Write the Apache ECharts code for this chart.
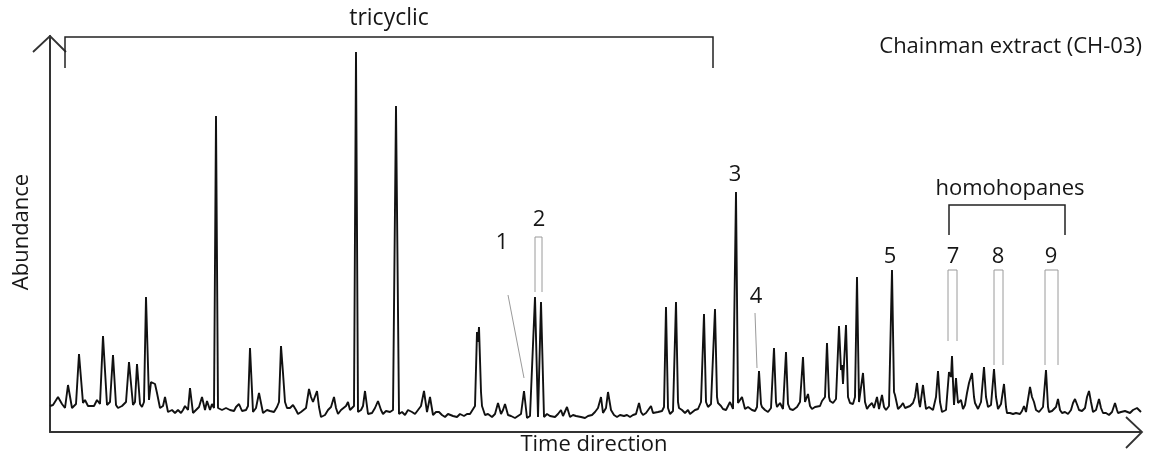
<!DOCTYPE html>
<html><head><meta charset="utf-8">
<script src="https://cdn.jsdelivr.net/npm/echarts@6/dist/echarts.min.js"></script>
<style>html,body{margin:0;padding:0;background:#fff}#c{width:1150px;height:461px}</style>
</head><body><div id="c"></div>
<script>
// Retention position (time direction, arbitrary units) and abundance (arbitrary units)
const tracePoints = [[50,26],[53,27],[58,35],[62,28],[65,24],[68,47],[72,24],[76,28],[79,78],[83,29],[85,32],[88,26],[90,24],[94,26],[97,32],[100,28],[103,96],[107,27],[110,30],[113,77],[116,27],[118,24],[122,26],[126,30],[129,70],[133,27],[135,30],[137,68],[140,28],[142,25],[144,30],[146,135],[149,32],[151,50],[153,52],[155,48],[157,39],[160,24],[163,26],[165,35],[168,20],[172,22],[175,19],[178,22],[181,19],[183,22],[185,26],[188,22],[190,44],[193,19],[196,22],[199,25],[202,35],[205,22],[207,31],[210,22],[212,28],[214,24],[216,316],[218,24],[222,22],[226,24],[230,22],[234,21],[236,25],[239,28],[242,21],[246,22],[248,26],[250,84],[253,20],[256,24],[259,39],[263,19],[267,22],[270,21],[274,20],[277,25],[279,30],[281,86],[283,59],[285,30],[287,24],[290,24],[293,27],[296,22],[298,18],[301,20],[303,20],[306,24],[309,43],[311,35],[313,30],[315,28],[317,41],[319,25],[321,15],[325,17],[328,22],[331,25],[334,35],[336,24],[338,18],[341,22],[343,23],[346,26],[348,30],[350,22],[352,20],[354,26],[356,380],[358,20],[361,22],[363,26],[365,41],[368,18],[372,19],[375,24],[378,31],[381,22],[383,18],[386,21],[390,20],[393,22],[396,326],[399,18],[402,20],[405,17],[408,22],[412,20],[415,18],[418,22],[421,26],[424,41],[427,20],[430,35],[433,17],[436,20],[439,20],[442,17],[445,15],[448,18],[450,18],[453,16],[457,15],[460,18],[464,16],[467,18],[470,18],[472,20],[475,26],[477,100],[478,90],[479,105],[481,40],[482,26],[485,17],[488,18],[492,15],[495,18],[498,29],[501,18],[503,22],[505,28],[508,17],[511,16],[515,14],[518,16],[521,18],[524,41],[527,14],[530,16],[532,15],[535,135],[538,15],[541,130],[544,15],[547,18],[550,16],[552,17],[555,15],[558,18],[561,22],[563,16],[565,18],[567,25],[570,15],[573,17],[576,16],[578,18],[581,15],[585,14],[588,16],[592,17],[595,20],[598,24],[601,35],[603,19],[606,24],[608,40],[611,22],[614,17],[617,15],[620,17],[624,16],[627,17],[630,15],[633,17],[636,18],[639,29],[641,20],[643,17],[646,19],[648,18],[651,26],[653,19],[655,17],[658,20],[660,18],[662,21],[664,25],[666,125],[668,24],[670,18],[673,21],[676,130],[678,30],[679,24],[682,22],[685,19],[688,22],[690,18],[692,18],[695,22],[698,23],[701,30],[704,118],[706,30],[708,25],[711,28],[713,30],[715,123],[717,35],[718,29],[721,26],[723,23],[726,22],[728,24],[730,30],[733,23],[736,240],[738,29],[740,30],[742,35],[745,23],[748,25],[750,23],[752,22],[755,21],[757,25],[759,61],[761,28],[762,25],[765,22],[768,20],[771,24],[774,84],[776,30],[777,25],[780,29],[783,23],[786,80],[788,28],[790,23],[793,22],[795,24],[797,25],[800,30],[803,75],[805,30],[806,28],[808,38],[810,26],[812,23],[815,25],[817,23],[820,26],[822,31],[825,35],[827,89],[829,35],[830,31],[833,29],[836,33],[839,106],[841,62],[842,67],[843,48],[846,107],[848,35],[850,29],[853,28],[855,35],[857,155],[859,30],[860,29],[863,59],[865,30],[867,23],[869,26],[872,29],[874,24],[877,35],[879,23],[882,37],[884,25],[886,22],[889,26],[892,162],[894,40],[895,37],[898,23],[901,26],[903,29],[905,24],[907,22],[910,26],[912,25],[913,29],[915,35],[917,49],[919,30],[920,25],[923,47],[925,30],[926,23],[929,25],[931,24],[933,22],[936,35],[938,61],[940,30],[942,20],[946,22],[949,60],[951,55],[952,76],[953,50],[954,27],[956,54],[957,40],[958,29],[961,32],[963,23],[965,27],[967,39],[969,49],[970,50],[972,59],[974,35],[975,29],[978,23],[981,30],[984,65],[986,35],[988,25],[991,27],[994,63],[996,35],[998,23],[1001,28],[1004,48],[1006,25],[1007,19],[1010,19],[1013,18],[1016,19],[1020,18],[1022,21],[1024,26],[1026,20],[1027,19],[1030,45],[1032,35],[1034,30],[1036,22],[1039,20],[1040,20],[1043,25],[1046,62],[1048,25],[1049,20],[1052,21],[1054,20],[1056,25],[1058,33],[1060,22],[1062,19],[1065,20],[1068,18],[1071,22],[1073,29],[1075,33],[1076,35],[1078,25],[1079,22],[1082,21],[1085,24],[1087,35],[1089,41],[1091,30],[1093,20],[1096,22],[1099,33],[1101,24],[1103,19],[1106,19],[1109,17],[1112,20],[1115,29],[1117,22],[1118,19],[1121,20],[1125,21],[1127,20],[1130,19],[1133,22],[1137,24],[1141,20]];

const chartTitle = 'Chainman extract (CH-03)';
const xAxisName = 'Time direction';
const yAxisName = 'Abundance';
const groupLabels = ['tricyclic', 'homohopanes'];
const peakLabels = ['1', '2', '3', '4', '5', '7', '8', '9'];

const FONT = '"Open Sans", "Noto Sans", sans-serif';
const TXT = '#161616';
const AX = '#333333';
const GRAY = '#9a9a9a';

function text(x, y, s, size, rot) {
  return { type: 'text', x: x, y: y, rotation: rot || 0,
    style: { text: s, font: size + 'px ' + FONT, fill: TXT, textAlign: 'center', textVerticalAlign: 'middle' } };
}
function poly(pts, color, w) {
  return { type: 'polyline', shape: { points: pts }, style: { stroke: color, lineWidth: w, fill: null } };
}

const chart = echarts.init(document.getElementById('c'), null, { renderer: 'canvas' });
chart.setOption({
  animation: false,
  backgroundColor: '#fff',
  grid: { left: 50, right: 9, top: 36, bottom: 29 },
  xAxis: { type: 'value', min: 50, max: 1141, axisLine: { show: true, lineStyle: { color: AX, width: 2 } },
    axisTick: { show: false }, axisLabel: { show: false }, splitLine: { show: false } },
  yAxis: { type: 'value', min: 0, max: 396, axisLine: { show: true, lineStyle: { color: AX, width: 2 } },
    axisTick: { show: false }, axisLabel: { show: false }, splitLine: { show: false } },
  series: [{ type: 'line', data: tracePoints, showSymbol: false, symbol: 'none',
    lineStyle: { color: '#111111', width: 1.9 }, z: 3 }],
  graphic: [
    poly([[33, 52], [50, 36], [66, 52]], AX, 1.8),
    poly([[1126, 417], [1142, 432], [1126, 448]], AX, 1.8),
    poly([[65, 68], [65, 37], [713, 37], [713, 68]], '#222', 1.5),
    poly([[949, 235], [949, 205], [1065, 205], [1065, 235]], '#222', 1.5),
    poly([[535, 292], [535, 237], [542, 237], [542, 292]], GRAY, 1),
    poly([[948, 341], [948, 270], [957, 270], [957, 341]], GRAY, 1),
    poly([[994, 365], [994, 270], [1003, 270], [1003, 365]], GRAY, 1),
    poly([[1045, 365], [1045, 270], [1058, 270], [1058, 365]], GRAY, 1),
    poly([[508, 295], [524, 378]], GRAY, 1),
    poly([[755, 313], [757, 368]], GRAY, 1),
    text(389, 18, groupLabels[0], 23),
    text(1010, 189, groupLabels[1], 22),
    { type: 'text', x: 1142, y: 47, style: { text: chartTitle, font: '22px ' + FONT, fill: TXT, textAlign: 'right', textVerticalAlign: 'middle' } },
    text(594, 445, xAxisName, 22),
    text(22, 232, yAxisName, 22, Math.PI / 2),
    text(502, 243, peakLabels[0], 22),
    text(539, 220, peakLabels[1], 22),
    text(735, 175, peakLabels[2], 22),
    text(756, 297, peakLabels[3], 22),
    text(890, 257, peakLabels[4], 22),
    text(953, 257, peakLabels[5], 22),
    text(998, 257, peakLabels[6], 22),
    text(1051, 257, peakLabels[7], 22)
  ]
});
</script></body></html>
